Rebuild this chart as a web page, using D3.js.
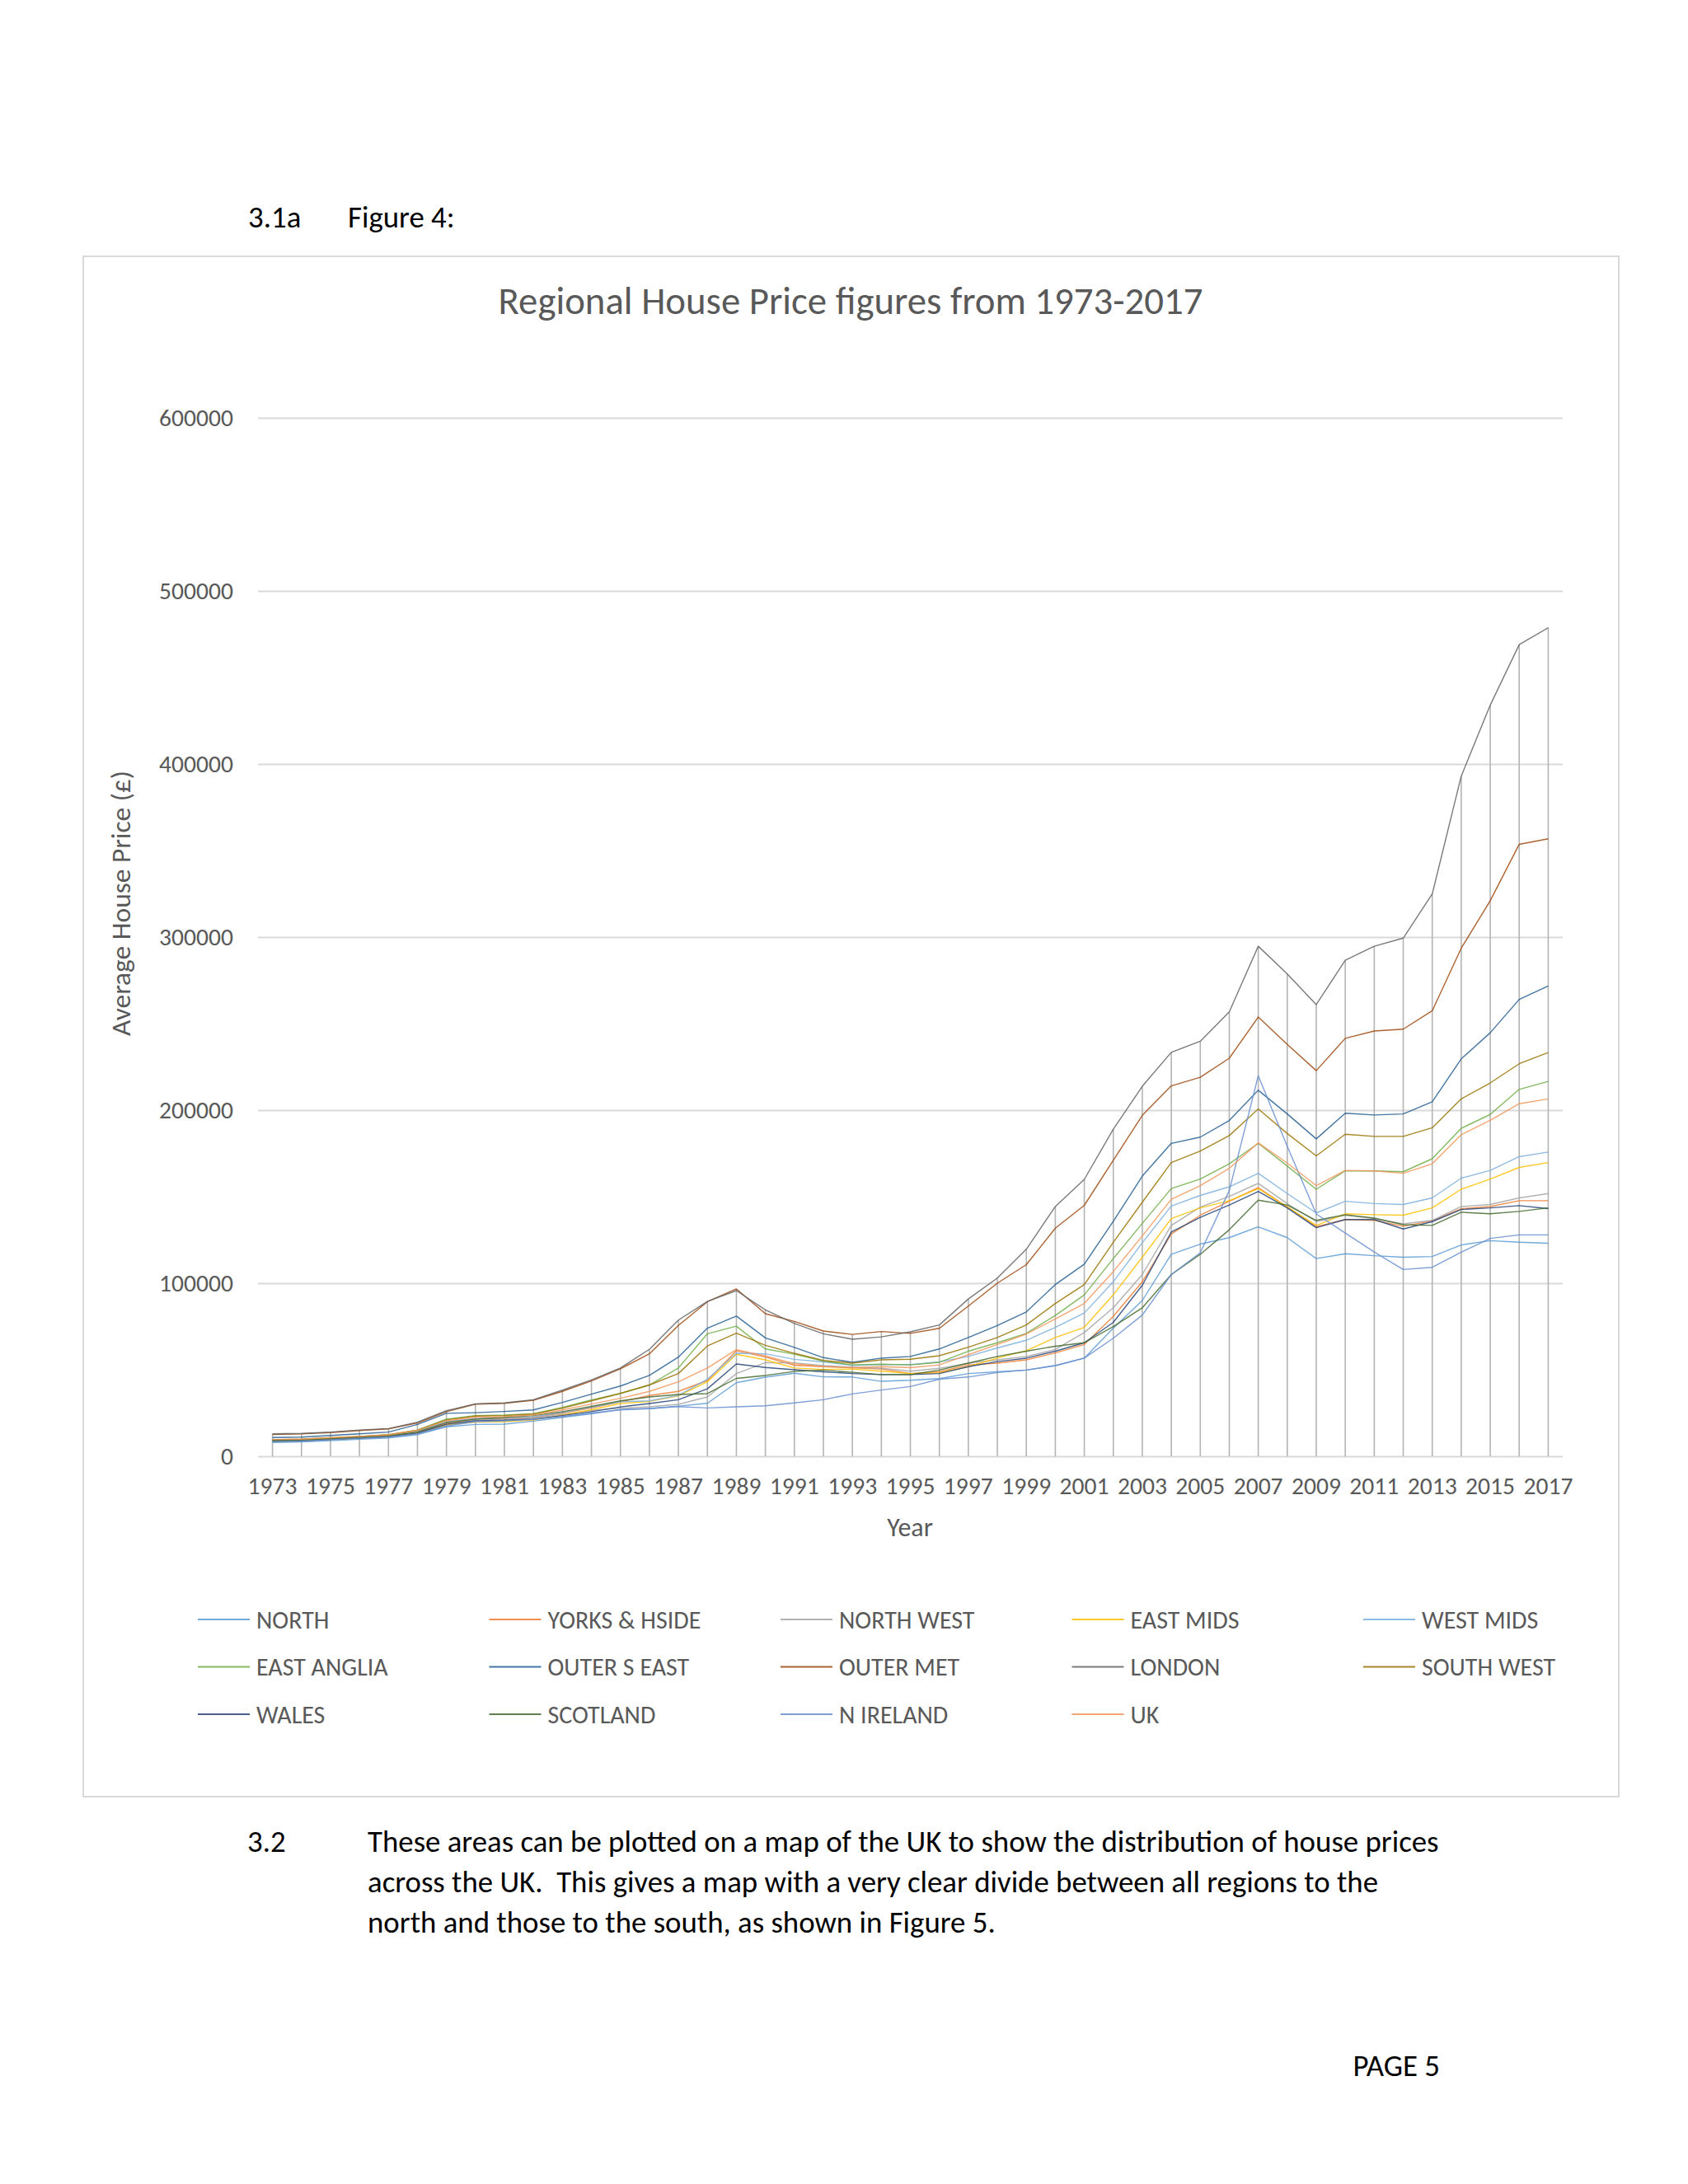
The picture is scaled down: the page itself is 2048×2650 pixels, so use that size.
<!DOCTYPE html>
<html>
<head>
<meta charset="utf-8">
<script src="https://cdn.jsdelivr.net/npm/d3@7"></script>
<style>
  body { margin: 0; background: #fff; }
  text { font-family: Calibri, Carlito, Lato, "Open Sans", sans-serif; }
</style>
</head>
<body>
<div id="page"></div>
<script>
// Data (annual averages, £)
var years = [1973,1974,1975,1976,1977,1978,1979,1980,1981,1982,1983,1984,1985,1986,1987,1988,1989,1990,1991,1992,1993,1994,1995,1996,1997,1998,1999,2000,2001,2002,2003,2004,2005,2006,2007,2008,2009,2010,2011,2012,2013,2014,2015,2016,2017];
var yTicks = [0, 100000, 200000, 300000, 400000, 500000, 600000];

var regions = ["NORTH","YORKS & HSIDE","NORTH WEST","EAST MIDS","WEST MIDS","EAST ANGLIA","OUTER S EAST","OUTER MET","LONDON","SOUTH WEST","WALES","SCOTLAND","N IRELAND","UK"];

var north      = [8000,8300,9000,9800,10600,12500,17000,18400,18600,20300,22500,24500,27100,27500,29000,30600,42500,45700,48000,45900,45800,43300,43900,44900,47800,48800,49800,52400,56700,74000,90000,116700,122600,126300,132600,126300,114200,117000,115900,115000,115400,122100,124600,123700,123100];
var yorks      = [8800,9100,9900,10700,11500,13800,19000,21500,21800,22500,25000,28000,31500,35100,37500,43800,61000,57300,52600,51800,51200,50400,47800,48800,52800,53800,55700,59700,64600,80800,100800,128400,139300,147300,155200,144000,132600,136800,136300,132900,136000,143000,144300,147700,147700];
var northWest  = [8900,9200,10000,10800,11600,13600,18500,21000,21300,22000,24200,26500,27800,28600,30000,34300,47800,54100,54000,52400,51500,50800,49200,50800,53800,55700,57700,61700,71500,85800,105000,133400,144000,150200,157700,146000,135600,139300,137300,134300,136300,144300,145500,149300,151800];
var eastMids   = [8600,8900,9700,10500,11300,13300,18200,19700,20000,20900,23800,26900,30500,31700,35000,43000,58900,55700,51000,50200,50400,49200,47800,48200,51800,56700,61000,68600,74500,93300,115000,137300,143500,147700,154700,144000,133400,140100,139600,139300,143500,154300,160200,166900,169700];
var westMids   = [9400,9600,10400,11200,12100,14600,20000,21800,22100,22800,25300,28300,31500,32000,35200,44500,59500,59200,56000,54500,52500,53000,53000,54500,57700,62600,67000,74500,82800,100800,123400,144600,150700,155700,163500,151800,140600,147300,146000,145500,149300,160700,165200,173100,175800];
var eastAnglia = [9400,9700,10500,11300,12300,15200,21500,23500,23800,24600,28200,32500,36400,41200,51000,70800,75200,62000,59000,55000,52800,53200,52800,54300,60700,65600,71000,81400,93300,114200,134600,154700,160200,169000,180800,167700,154300,164900,164900,164400,171900,189500,197500,212000,216600];
var outerSEast = [10800,11100,12000,13000,14000,18400,24800,25200,25900,26800,31100,35900,40600,46700,57300,74000,81000,68400,62900,57000,54300,56700,57700,62000,68600,75500,83400,99200,111000,135800,161900,180800,184400,194000,211500,197800,183400,198200,197200,197800,204800,229600,244700,264000,271700];
var outerMet   = [12600,12900,13700,14900,15800,19300,25800,30100,30600,32400,37500,43500,50500,59200,75600,89300,96700,82400,77900,72400,70400,72100,71000,73900,86800,100000,110700,131800,145000,171000,197000,214000,219000,230000,253800,238000,222800,241500,245700,246800,257400,293600,321000,353600,356800];
var london     = [13000,13200,14000,15200,16000,19700,26300,30300,30800,32700,38200,44100,51000,61800,78700,89500,95700,84600,76700,70800,67600,69000,71900,75900,90900,103000,119600,144300,160000,189000,213800,233400,239800,256800,294700,278700,261000,286600,294700,299400,324900,393000,434000,469000,478700];
var southWest  = [9600,9900,10700,11500,12500,15000,21000,23200,23500,24400,27800,32000,36300,41200,47800,63700,71100,64100,59500,55400,53800,55700,56100,58100,63000,68600,75900,88300,99200,123600,146800,169700,176400,185300,200700,186500,173600,186100,184800,184800,189800,206500,215700,226800,233300];
var wales      = [8700,8900,9700,10500,11300,13400,18500,20500,20800,21500,23500,25800,28500,30500,32700,39000,53300,51300,50000,48800,47800,47200,47200,47800,51800,54700,56700,60700,65600,77400,98800,129600,138000,145200,153000,143500,132100,136800,136800,131300,135600,142600,143500,144800,143100];
var scotland   = [9200,9400,10200,11000,11800,14000,19500,21500,22500,23500,25800,28800,32000,34300,35700,36200,45000,46700,49000,49800,48500,47200,47200,49800,53800,57700,60700,63600,65600,74900,85800,105000,116700,130900,148000,145200,136300,139600,137600,133800,133400,141000,140100,141500,143500];
var nIreland   = [8500,8800,9600,10400,11200,13000,17500,20000,20500,21300,23000,25000,26800,27600,28700,27900,28600,29200,30800,32700,36000,38300,40300,44500,45800,48400,49800,52400,56700,68200,81600,105000,117600,153500,219900,179000,140000,129000,118000,107900,109200,117900,125900,127900,127900];
var uk         = [9700,9900,10700,11500,12400,15000,20500,22600,23000,23800,26800,30200,33500,37500,43000,51000,61600,58000,53500,51800,51200,51800,51200,52800,58700,64600,70600,79400,88300,106700,127300,148500,156400,166400,181100,169400,156400,165200,164900,163500,169000,185800,194100,203700,206500];

var values = [north, yorks, northWest, eastMids, westMids, eastAnglia, outerSEast, outerMet, london, southWest, wales, scotland, nIreland, uk];
var colors = ["#5B9BD5","#ED7D31","#A5A5A5","#FFC000","#7CAFDD","#70AD47","#255E91","#9E480E","#636363","#997300","#264478","#43682B","#698ED0","#F1975A"];

var series = regions.map(function(name, i) {
  return { name: name, values: values[i], color: colors[i] };
});

var W = 2048, H = 2650;
var plot = { left: 313, right: 1896, top: 507, bottom: 1767 };

var svg = d3.select("#page").append("svg")
    .attr("width", W)
    .attr("height", H);

// scale font so a sample string gets a given width
function fitSize(sample, base, target) {
  var t = svg.append("text").attr("font-size", base).text(sample);
  var w = t.node().getComputedTextLength();
  t.remove();
  return base * target / w;
}

var paraSize = fitSize("These areas can be plotted on a map of the UK to show the distribution of house prices", 30, 1300);
var titleSize = fitSize("Regional House Price figures from 1973-2017", 40, 855);
var tickSize = fitSize("600000", 26, 90);
var legendSize = fitSize("YORKS & HSIDE", 26, 186);
var yTitleSize = fitSize("Average House Price (£)", 26, 322);

// document text
svg.append("text").attr("x", 301).attr("y", 276).attr("font-size", paraSize).text("3.1a");
svg.append("text").attr("x", 422).attr("y", 276).attr("font-size", paraSize).text("Figure 4:");

// chart frame
svg.append("rect")
    .attr("x", 101).attr("y", 311)
    .attr("width", 1964 - 101).attr("height", 2180 - 311)
    .attr("fill", "#fff")
    .attr("stroke", "#d9d9d9")
    .attr("stroke-width", 2);

svg.append("text")
    .attr("x", 1032).attr("y", 381)
    .attr("text-anchor", "middle")
    .attr("font-size", titleSize)
    .attr("fill", "#595959")
    .text("Regional House Price figures from 1973-2017");

// X Scale
var x = d3.scaleBand()
    .domain(years)
    .range([plot.left, plot.right]);

// Y Scale
var y = d3.scaleLinear()
    .domain([0, 600000])
    .range([plot.bottom, plot.top]);

function cx(d) { return x(d) + x.bandwidth() / 2; }

// gridlines
var grid = svg.append("g")
    .attr("transform", "translate(" + plot.left + ",0)")
    .call(d3.axisLeft(y).tickValues(yTicks).tickSize(-(plot.right - plot.left)).tickFormat(""));
grid.select(".domain").remove();
grid.selectAll("line").attr("stroke", "#d9d9d9").attr("stroke-width", 2);

// Y Axis
var yAxis = svg.append("g")
    .attr("transform", "translate(" + plot.left + ",0)")
    .call(d3.axisLeft(y).tickValues(yTicks).tickSize(0).tickPadding(30).tickFormat(d3.format("d")));
yAxis.select(".domain").remove();
yAxis.selectAll("text")
    .attr("font-size", tickSize)
    .attr("fill", "#595959")
    .style("font-family", "Calibri, Carlito, Lato, 'Open Sans', sans-serif");

// X Axis
var xAxis = svg.append("g")
    .attr("transform", "translate(0," + plot.bottom + ")")
    .call(d3.axisBottom(x).tickValues(years.filter(function(d, i) { return i % 2 === 0; })).tickSize(0).tickPadding(25));
xAxis.select(".domain").remove();
xAxis.selectAll("text")
    .attr("font-size", tickSize)
    .attr("fill", "#595959")
    .style("font-family", "Calibri, Carlito, Lato, 'Open Sans', sans-serif");

// drop lines from the highest point to the axis
svg.append("g").selectAll("line")
    .data(years)
    .enter().append("line")
    .attr("x1", cx).attr("x2", cx)
    .attr("y1", function(d, i) { return y(d3.max(values, function(v) { return v[i]; })); })
    .attr("y2", y(0))
    .attr("stroke", "#b4b4b4")
    .attr("stroke-width", 1.6);

// series lines
var line = d3.line()
    .x(function(d, i) { return cx(years[i]); })
    .y(function(d) { return y(d); });

svg.append("g").selectAll("path")
    .data(series)
    .enter().append("path")
    .attr("d", function(s) { return line(s.values); })
    .attr("fill", "none")
    .attr("stroke", function(s) { return s.color; })
    .attr("stroke-width", 1.4)
    .attr("stroke-opacity", 0.85)
    .attr("stroke-linejoin", "round");

// axis titles
svg.append("text")
    .attr("x", 1104).attr("y", 1864)
    .attr("text-anchor", "middle")
    .attr("font-size", tickSize * 1.08)
    .attr("fill", "#595959")
    .text("Year");

svg.append("text")
    .attr("transform", "translate(" + 158 + "," + 1096 + ") rotate(-90)")
    .attr("text-anchor", "middle")
    .attr("font-size", yTitleSize)
    .attr("fill", "#595959")
    .text("Average House Price (£)");

// legend
var legend = svg.append("g").selectAll("g")
    .data(series)
    .enter().append("g")
    .attr("transform", function(s, i) {
      return "translate(" + (311 + (i % 5) * 353.5) + "," + (1965 + Math.floor(i / 5) * 57.5) + ")";
    });

legend.append("line")
    .attr("x1", -71).attr("x2", -8)
    .attr("stroke", function(s) { return s.color; })
    .attr("stroke-opacity", 0.85)
    .attr("stroke-width", 1.8);

legend.append("text")
    .attr("y", legendSize * 0.35)
    .attr("font-size", legendSize)
    .attr("fill", "#595959")
    .text(function(s) { return s.name; });

// paragraph below the chart
var para = [
  "These areas can be plotted on a map of the UK to show the distribution of house prices",
  "across the UK.  This gives a map with a very clear divide between all regions to the",
  "north and those to the south, as shown in Figure 5."
];
svg.append("text").attr("x", 300).attr("y", 2247).attr("font-size", paraSize).text("3.2");
svg.append("g").selectAll("text")
    .data(para)
    .enter().append("text")
    .attr("x", 446)
    .attr("y", function(d, i) { return 2247 + i * 49; })
    .attr("font-size", paraSize)
    .attr("xml:space", "preserve")
    .style("white-space", "pre")
    .text(function(d) { return d; });

svg.append("text")
    .attr("x", 1747).attr("y", 2519)
    .attr("text-anchor", "end")
    .attr("font-size", paraSize)
    .text("PAGE 5");
</script>
</body>
</html>
